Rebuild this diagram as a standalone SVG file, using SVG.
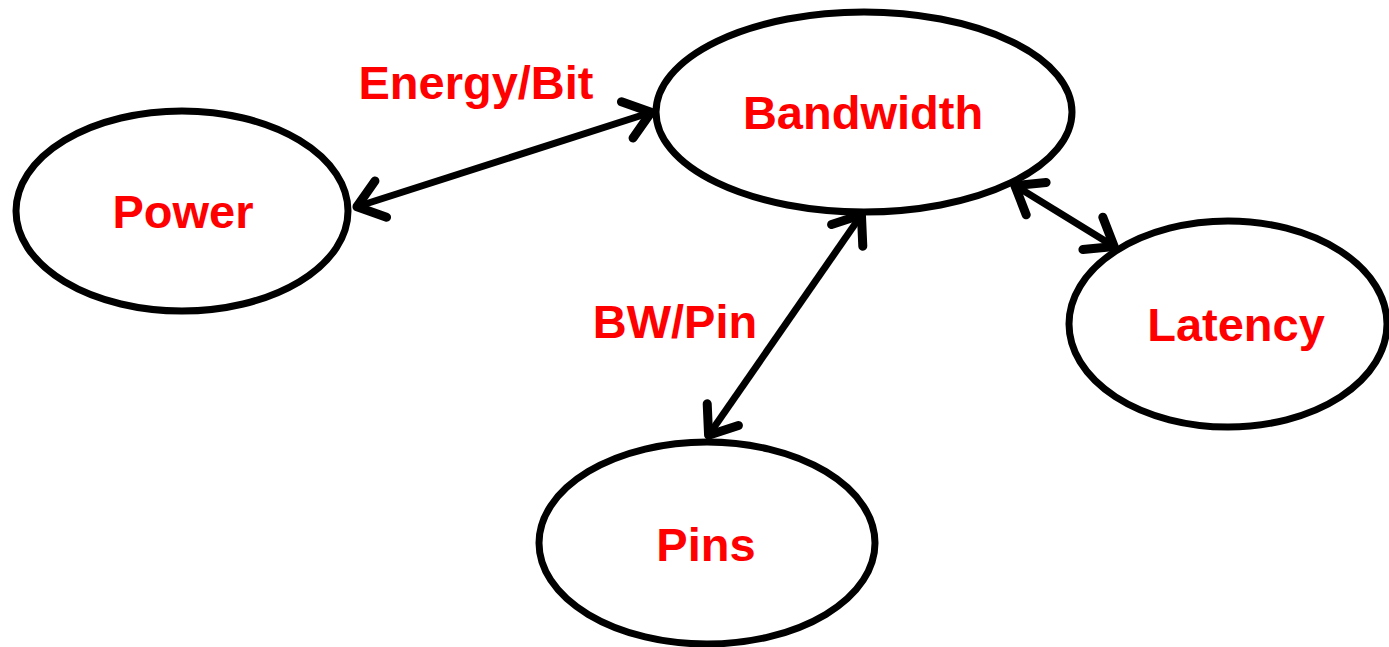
<svg xmlns="http://www.w3.org/2000/svg" width="1389" height="647" viewBox="0 0 1389 647">
<style>
.node{fill:#fff;stroke:#000;stroke-width:7}
.lbl{font-family:"Liberation Sans",Arial,sans-serif;font-weight:bold;font-size:47px;fill:#ff0000;text-anchor:middle}
.conn{stroke:#000;stroke-width:7;fill:none}
</style>
<defs>
<marker id="arr" markerUnits="userSpaceOnUse" orient="auto-start-reverse" refX="0" refY="0" markerWidth="1" markerHeight="1" overflow="visible">
<path d="M-26,-19 L-1,0 L-26,19" fill="none" stroke="#000" stroke-width="9" stroke-linecap="round" stroke-linejoin="round"/>
</marker>
</defs>
<rect width="1389" height="647" fill="#fff"/>
<g id="power"><ellipse class="node" cx="182" cy="211" rx="166" ry="100"/><text class="lbl" x="183" y="228">Power</text></g>
<g id="bandwidth"><ellipse class="node" cx="864" cy="112" rx="208" ry="100"/><text class="lbl" x="863" y="129">Bandwidth</text></g>
<g id="latency"><ellipse class="node" cx="1228" cy="324" rx="159" ry="103"/><text class="lbl" x="1236" y="341">Latency</text></g>
<g id="pins"><ellipse class="node" cx="707" cy="543" rx="168" ry="101"/><text class="lbl" x="706" y="561">Pins</text></g>
<g id="connectors">
<line class="conn" x1="356" y1="207" x2="652" y2="112" marker-start="url(#arr)" marker-end="url(#arr)"/>
<line class="conn" x1="862" y1="214" x2="708" y2="436" marker-start="url(#arr)" marker-end="url(#arr)"/>
<line class="conn" x1="1014" y1="185" x2="1115" y2="247" marker-start="url(#arr)" marker-end="url(#arr)"/>
<text class="lbl" x="476" y="99">Energy/Bit</text>
<text class="lbl" x="675" y="338">BW/Pin</text>
</g>
</svg>
